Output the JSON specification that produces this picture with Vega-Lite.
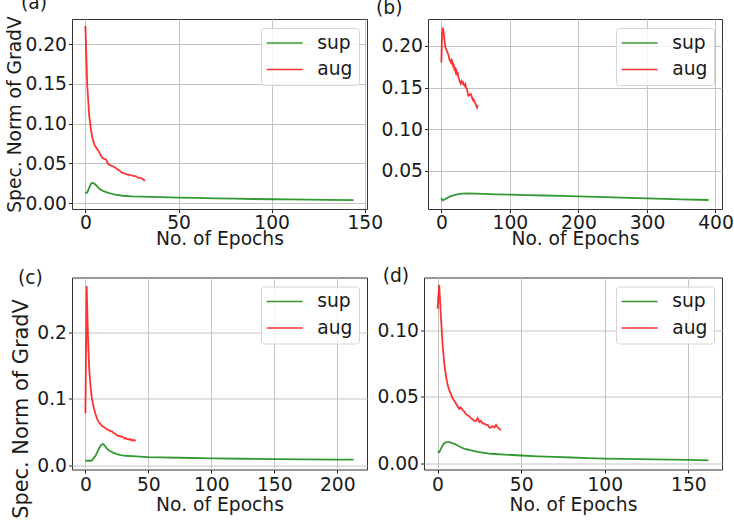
{
  "$schema": "https://vega.github.io/schema/vega-lite/v6.json",
  "background": "white",
  "padding": {"left": 5, "top": -7, "right": 2, "bottom": 5},
  "bounds": "flush",
  "spacing": 258.5,
  "config": {
    "font": "DejaVu Sans",
    "view": {"stroke": "#333333", "strokeWidth": 1},
    "axis": {
      "labelFont": "DejaVu Sans", "labelFontSize": 18.7, "labelColor": "#1a1a1a",
      "titleFont": "DejaVu Sans", "titleFontSize": 18.7, "titleFontWeight": "normal", "titleColor": "#1a1a1a",
      "grid": true, "gridColor": "#c4c4c4", "gridWidth": 1,
      "domain": false, "tickColor": "#222222", "tickSize": 3.5, "tickWidth": 1,
      "labelPadding": 2, "labelFlush": false, "labelOverlap": false, "labelBound": false
    },
    "title": {"font": "DejaVu Sans", "fontSize": 18.7, "fontWeight": "normal", "color": "#1a1a1a", "anchor": "start", "frame": "group", "baseline": "alphabetic", "offset": 0},
    "legend": {
      "orient": "top-right", "offset": 8.5, "padding": 5.6,
      "fillColor": "rgba(255,255,255,0.8)", "strokeColor": "#d4d4d4", "cornerRadius": 3,
      "labelFont": "DejaVu Sans", "labelFontSize": 18.7, "labelColor": "#1a1a1a",
      "symbolType": "M-3,0H3", "symbolSize": 144, "symbolStrokeWidth": 1.6, "symbolOpacity": 0.8,
      "symbolOffset": 8.65, "labelOffset": 23.3, "rowPadding": 6.5
    }
  },
  "resolve": {"scale": {"color": "independent"}, "legend": {"color": "independent"}},
  "vconcat": [
    {
      "bounds": "flush",
      "spacing": 61,
      "resolve": {"scale": {"color": "independent"}, "legend": {"color": "independent"}},
      "hconcat": [
        {
          "width": 295, "height": 190,
          "title": {"text": "(a)", "dx": -51, "dy": 1},
          "data": {"values": [
            {"series": "aug", "epoch": 0, "value": 0.223}, {"series": "aug", "epoch": 1, "value": 0.148}, {"series": "aug", "epoch": 2, "value": 0.111}, {"series": "aug", "epoch": 3, "value": 0.092}, {"series": "aug", "epoch": 4, "value": 0.0795}, {"series": "aug", "epoch": 5, "value": 0.073}, {"series": "aug", "epoch": 6, "value": 0.069}, {"series": "aug", "epoch": 7, "value": 0.0657}, {"series": "aug", "epoch": 8, "value": 0.0615}, {"series": "aug", "epoch": 9, "value": 0.057}, {"series": "aug", "epoch": 10, "value": 0.0556}, {"series": "aug", "epoch": 11, "value": 0.0552}, {"series": "aug", "epoch": 12, "value": 0.05}, {"series": "aug", "epoch": 13, "value": 0.048}, {"series": "aug", "epoch": 14, "value": 0.047}, {"series": "aug", "epoch": 15, "value": 0.046}, {"series": "aug", "epoch": 16, "value": 0.0448}, {"series": "aug", "epoch": 17, "value": 0.043}, {"series": "aug", "epoch": 18, "value": 0.0414}, {"series": "aug", "epoch": 19, "value": 0.0393}, {"series": "aug", "epoch": 20, "value": 0.038}, {"series": "aug", "epoch": 21, "value": 0.0372}, {"series": "aug", "epoch": 22, "value": 0.0364}, {"series": "aug", "epoch": 23, "value": 0.0356}, {"series": "aug", "epoch": 24, "value": 0.0356}, {"series": "aug", "epoch": 25, "value": 0.0347}, {"series": "aug", "epoch": 26, "value": 0.0339}, {"series": "aug", "epoch": 27, "value": 0.0339}, {"series": "aug", "epoch": 28, "value": 0.0322}, {"series": "aug", "epoch": 29, "value": 0.0318}, {"series": "aug", "epoch": 30, "value": 0.0314}, {"series": "aug", "epoch": 31, "value": 0.0297}, {"series": "aug", "epoch": 32, "value": 0.028},
            {"series": "sup", "epoch": 0, "value": 0.0126}, {"series": "sup", "epoch": 1, "value": 0.0134}, {"series": "sup", "epoch": 2, "value": 0.019}, {"series": "sup", "epoch": 3, "value": 0.0243}, {"series": "sup", "epoch": 4, "value": 0.0255}, {"series": "sup", "epoch": 5, "value": 0.0239}, {"series": "sup", "epoch": 6, "value": 0.0218}, {"series": "sup", "epoch": 7, "value": 0.019}, {"series": "sup", "epoch": 8, "value": 0.0172}, {"series": "sup", "epoch": 9, "value": 0.0159}, {"series": "sup", "epoch": 10, "value": 0.0146}, {"series": "sup", "epoch": 12, "value": 0.013}, {"series": "sup", "epoch": 14, "value": 0.0117}, {"series": "sup", "epoch": 16, "value": 0.0105}, {"series": "sup", "epoch": 20, "value": 0.0092}, {"series": "sup", "epoch": 25, "value": 0.0084}, {"series": "sup", "epoch": 30, "value": 0.008}, {"series": "sup", "epoch": 40, "value": 0.0075}, {"series": "sup", "epoch": 50, "value": 0.0069}, {"series": "sup", "epoch": 60, "value": 0.0064}, {"series": "sup", "epoch": 70, "value": 0.006}, {"series": "sup", "epoch": 80, "value": 0.0055}, {"series": "sup", "epoch": 90, "value": 0.0051}, {"series": "sup", "epoch": 100, "value": 0.0048}, {"series": "sup", "epoch": 110, "value": 0.0045}, {"series": "sup", "epoch": 120, "value": 0.0042}, {"series": "sup", "epoch": 130, "value": 0.004}, {"series": "sup", "epoch": 144, "value": 0.0037}
          ]},
          "mark": {"type": "line", "strokeWidth": 1.8, "opacity": 0.8},
          "encoding": {
            "x": {"field": "epoch", "type": "quantitative", "scale": {"domain": [-7.2, 151.2], "nice": false, "zero": false}, "axis": {"values": [0, 50, 100, 150], "title": "No. of Epochs", "labelPadding": 1, "titlePadding": -3}},
            "y": {"field": "value", "type": "quantitative", "scale": {"domain": [-0.0075, 0.2318], "nice": false, "zero": false}, "axis": {"values": [0, 0.05, 0.1, 0.15, 0.2], "format": ".2f", "title": "Spec. Norm of GradV", "titlePadding": 0}},
            "color": {"field": "series", "type": "nominal", "scale": {"domain": ["sup", "aug"], "range": ["#008000", "#ff0000"]}, "legend": {"title": null}}
          }
        },
        {
          "width": 294, "height": 190,
          "title": {"text": "(b)", "dx": -52, "dy": 2.2},
          "data": {"values": [
            {"series": "aug", "epoch": 0, "value": 0.18}, {"series": "aug", "epoch": 1, "value": 0.215}, {"series": "aug", "epoch": 2, "value": 0.222}, {"series": "aug", "epoch": 3, "value": 0.218}, {"series": "aug", "epoch": 4, "value": 0.211}, {"series": "aug", "epoch": 5, "value": 0.204}, {"series": "aug", "epoch": 6, "value": 0.198}, {"series": "aug", "epoch": 7, "value": 0.196}, {"series": "aug", "epoch": 8, "value": 0.194}, {"series": "aug", "epoch": 9, "value": 0.192}, {"series": "aug", "epoch": 10, "value": 0.19}, {"series": "aug", "epoch": 11, "value": 0.187}, {"series": "aug", "epoch": 12, "value": 0.183}, {"series": "aug", "epoch": 13, "value": 0.182}, {"series": "aug", "epoch": 14, "value": 0.18}, {"series": "aug", "epoch": 15, "value": 0.183}, {"series": "aug", "epoch": 16, "value": 0.181}, {"series": "aug", "epoch": 17, "value": 0.176}, {"series": "aug", "epoch": 18, "value": 0.177}, {"series": "aug", "epoch": 19, "value": 0.172}, {"series": "aug", "epoch": 20, "value": 0.173}, {"series": "aug", "epoch": 21, "value": 0.168}, {"series": "aug", "epoch": 22, "value": 0.17}, {"series": "aug", "epoch": 23, "value": 0.166}, {"series": "aug", "epoch": 24, "value": 0.167}, {"series": "aug", "epoch": 25, "value": 0.162}, {"series": "aug", "epoch": 26, "value": 0.16}, {"series": "aug", "epoch": 27, "value": 0.157}, {"series": "aug", "epoch": 28, "value": 0.155}, {"series": "aug", "epoch": 29, "value": 0.157}, {"series": "aug", "epoch": 30, "value": 0.154}, {"series": "aug", "epoch": 31, "value": 0.158}, {"series": "aug", "epoch": 32, "value": 0.155}, {"series": "aug", "epoch": 33, "value": 0.153}, {"series": "aug", "epoch": 34, "value": 0.152}, {"series": "aug", "epoch": 35, "value": 0.154}, {"series": "aug", "epoch": 36, "value": 0.15}, {"series": "aug", "epoch": 37, "value": 0.149}, {"series": "aug", "epoch": 38, "value": 0.146}, {"series": "aug", "epoch": 39, "value": 0.141}, {"series": "aug", "epoch": 40, "value": 0.14}, {"series": "aug", "epoch": 41, "value": 0.141}, {"series": "aug", "epoch": 42, "value": 0.142}, {"series": "aug", "epoch": 43, "value": 0.142}, {"series": "aug", "epoch": 44, "value": 0.14}, {"series": "aug", "epoch": 45, "value": 0.137}, {"series": "aug", "epoch": 46, "value": 0.135}, {"series": "aug", "epoch": 47, "value": 0.136}, {"series": "aug", "epoch": 48, "value": 0.133}, {"series": "aug", "epoch": 49, "value": 0.132}, {"series": "aug", "epoch": 50, "value": 0.13}, {"series": "aug", "epoch": 51, "value": 0.128}, {"series": "aug", "epoch": 52, "value": 0.126}, {"series": "aug", "epoch": 53, "value": 0.129},
            {"series": "sup", "epoch": 0, "value": 0.0172}, {"series": "sup", "epoch": 1, "value": 0.015}, {"series": "sup", "epoch": 2, "value": 0.0144}, {"series": "sup", "epoch": 3, "value": 0.0148}, {"series": "sup", "epoch": 5, "value": 0.0158}, {"series": "sup", "epoch": 10, "value": 0.018}, {"series": "sup", "epoch": 15, "value": 0.0198}, {"series": "sup", "epoch": 20, "value": 0.021}, {"series": "sup", "epoch": 25, "value": 0.0219}, {"series": "sup", "epoch": 30, "value": 0.0224}, {"series": "sup", "epoch": 40, "value": 0.0228}, {"series": "sup", "epoch": 50, "value": 0.0226}, {"series": "sup", "epoch": 60, "value": 0.0222}, {"series": "sup", "epoch": 80, "value": 0.0217}, {"series": "sup", "epoch": 100, "value": 0.0212}, {"series": "sup", "epoch": 125, "value": 0.0207}, {"series": "sup", "epoch": 150, "value": 0.0202}, {"series": "sup", "epoch": 175, "value": 0.0197}, {"series": "sup", "epoch": 200, "value": 0.0192}, {"series": "sup", "epoch": 225, "value": 0.0186}, {"series": "sup", "epoch": 250, "value": 0.018}, {"series": "sup", "epoch": 275, "value": 0.0174}, {"series": "sup", "epoch": 300, "value": 0.0168}, {"series": "sup", "epoch": 325, "value": 0.0162}, {"series": "sup", "epoch": 350, "value": 0.0156}, {"series": "sup", "epoch": 375, "value": 0.0151}, {"series": "sup", "epoch": 390, "value": 0.0148}
          ]},
          "mark": {"type": "line", "strokeWidth": 1.8, "opacity": 0.8},
          "encoding": {
            "x": {"field": "epoch", "type": "quantitative", "scale": {"domain": [-19.5, 409.5], "nice": false, "zero": false}, "axis": {"values": [0, 100, 200, 300, 400], "title": "No. of Epochs", "labelPadding": 1, "titlePadding": -3}},
            "y": {"field": "value", "type": "quantitative", "scale": {"domain": [0.004, 0.2324], "nice": false, "zero": false}, "axis": {"values": [0.05, 0.1, 0.15, 0.2], "format": ".2f", "title": null}},
            "color": {"field": "series", "type": "nominal", "scale": {"domain": ["sup", "aug"], "range": ["#008000", "#ff0000"]}, "legend": {"title": null}}
          }
        }
      ]
    },
    {
      "bounds": "flush",
      "spacing": 57,
      "resolve": {"scale": {"color": "independent"}, "legend": {"color": "independent"}},
      "hconcat": [
        {
          "width": 295, "height": 192,
          "title": {"text": "(c)", "dx": -54, "dy": 14},
          "data": {"values": [
            {"series": "aug", "epoch": 0, "value": 0.078}, {"series": "aug", "epoch": 1, "value": 0.27}, {"series": "aug", "epoch": 2, "value": 0.195}, {"series": "aug", "epoch": 3, "value": 0.145}, {"series": "aug", "epoch": 4, "value": 0.121}, {"series": "aug", "epoch": 5, "value": 0.102}, {"series": "aug", "epoch": 6, "value": 0.092}, {"series": "aug", "epoch": 7, "value": 0.084}, {"series": "aug", "epoch": 8, "value": 0.077}, {"series": "aug", "epoch": 9, "value": 0.071}, {"series": "aug", "epoch": 10, "value": 0.067}, {"series": "aug", "epoch": 11, "value": 0.064}, {"series": "aug", "epoch": 12, "value": 0.062}, {"series": "aug", "epoch": 13, "value": 0.059}, {"series": "aug", "epoch": 14, "value": 0.058}, {"series": "aug", "epoch": 15, "value": 0.057}, {"series": "aug", "epoch": 16, "value": 0.055}, {"series": "aug", "epoch": 17, "value": 0.054}, {"series": "aug", "epoch": 18, "value": 0.053}, {"series": "aug", "epoch": 19, "value": 0.052}, {"series": "aug", "epoch": 20, "value": 0.051}, {"series": "aug", "epoch": 21, "value": 0.051}, {"series": "aug", "epoch": 22, "value": 0.049}, {"series": "aug", "epoch": 23, "value": 0.048}, {"series": "aug", "epoch": 24, "value": 0.047}, {"series": "aug", "epoch": 25, "value": 0.045}, {"series": "aug", "epoch": 26, "value": 0.044}, {"series": "aug", "epoch": 27, "value": 0.044}, {"series": "aug", "epoch": 28, "value": 0.043}, {"series": "aug", "epoch": 29, "value": 0.043}, {"series": "aug", "epoch": 30, "value": 0.042}, {"series": "aug", "epoch": 31, "value": 0.04}, {"series": "aug", "epoch": 32, "value": 0.041}, {"series": "aug", "epoch": 33, "value": 0.039}, {"series": "aug", "epoch": 34, "value": 0.039}, {"series": "aug", "epoch": 35, "value": 0.038}, {"series": "aug", "epoch": 36, "value": 0.039}, {"series": "aug", "epoch": 37, "value": 0.037}, {"series": "aug", "epoch": 38, "value": 0.038}, {"series": "aug", "epoch": 39, "value": 0.037}, {"series": "aug", "epoch": 40, "value": 0.037},
            {"series": "sup", "epoch": 0, "value": 0.0065}, {"series": "sup", "epoch": 2, "value": 0.0065}, {"series": "sup", "epoch": 4, "value": 0.0065}, {"series": "sup", "epoch": 5, "value": 0.0067}, {"series": "sup", "epoch": 6, "value": 0.009}, {"series": "sup", "epoch": 7, "value": 0.0116}, {"series": "sup", "epoch": 8, "value": 0.014}, {"series": "sup", "epoch": 9, "value": 0.0176}, {"series": "sup", "epoch": 10, "value": 0.0216}, {"series": "sup", "epoch": 11, "value": 0.0256}, {"series": "sup", "epoch": 12, "value": 0.029}, {"series": "sup", "epoch": 13, "value": 0.031}, {"series": "sup", "epoch": 14, "value": 0.0317}, {"series": "sup", "epoch": 15, "value": 0.03}, {"series": "sup", "epoch": 16, "value": 0.0276}, {"series": "sup", "epoch": 17, "value": 0.025}, {"series": "sup", "epoch": 18, "value": 0.023}, {"series": "sup", "epoch": 20, "value": 0.0206}, {"series": "sup", "epoch": 22, "value": 0.0186}, {"series": "sup", "epoch": 25, "value": 0.0166}, {"series": "sup", "epoch": 28, "value": 0.015}, {"series": "sup", "epoch": 32, "value": 0.014}, {"series": "sup", "epoch": 40, "value": 0.013}, {"series": "sup", "epoch": 50, "value": 0.012}, {"series": "sup", "epoch": 60, "value": 0.0115}, {"series": "sup", "epoch": 75, "value": 0.011}, {"series": "sup", "epoch": 100, "value": 0.0101}, {"series": "sup", "epoch": 125, "value": 0.0095}, {"series": "sup", "epoch": 150, "value": 0.009}, {"series": "sup", "epoch": 175, "value": 0.0085}, {"series": "sup", "epoch": 200, "value": 0.0082}, {"series": "sup", "epoch": 213, "value": 0.0081}
          ]},
          "mark": {"type": "line", "strokeWidth": 1.8, "opacity": 0.8},
          "encoding": {
            "x": {"field": "epoch", "type": "quantitative", "scale": {"domain": [-10.65, 223.65], "nice": false, "zero": false}, "axis": {"values": [0, 50, 100, 150, 200], "title": "No. of Epochs", "labelPadding": 2.5, "titlePadding": 1.4}},
            "y": {"field": "value", "type": "quantitative", "scale": {"domain": [-0.0067, 0.2828], "nice": false, "zero": false}, "axis": {"values": [0, 0.1, 0.2], "format": ".1f", "title": "Spec. Norm of GradV", "titlePadding": 5, "titleFontSize": 20.9, "titleY": 131}},
            "color": {"field": "series", "type": "nominal", "scale": {"domain": ["sup", "aug"], "range": ["#008000", "#ff0000"]}, "legend": {"title": null}}
          }
        },
        {
          "width": 298, "height": 192,
          "title": {"text": "(d)", "dx": -41.3, "dy": 12},
          "data": {"values": [
            {"series": "aug", "epoch": 0, "value": 0.116}, {"series": "aug", "epoch": 1, "value": 0.134}, {"series": "aug", "epoch": 2, "value": 0.11}, {"series": "aug", "epoch": 3, "value": 0.09}, {"series": "aug", "epoch": 4, "value": 0.075}, {"series": "aug", "epoch": 5, "value": 0.066}, {"series": "aug", "epoch": 6, "value": 0.059}, {"series": "aug", "epoch": 7, "value": 0.055}, {"series": "aug", "epoch": 8, "value": 0.052}, {"series": "aug", "epoch": 9, "value": 0.049}, {"series": "aug", "epoch": 10, "value": 0.047}, {"series": "aug", "epoch": 11, "value": 0.045}, {"series": "aug", "epoch": 12, "value": 0.043}, {"series": "aug", "epoch": 13, "value": 0.041}, {"series": "aug", "epoch": 14, "value": 0.042}, {"series": "aug", "epoch": 15, "value": 0.04}, {"series": "aug", "epoch": 16, "value": 0.039}, {"series": "aug", "epoch": 17, "value": 0.037}, {"series": "aug", "epoch": 18, "value": 0.036}, {"series": "aug", "epoch": 19, "value": 0.0355}, {"series": "aug", "epoch": 20, "value": 0.034}, {"series": "aug", "epoch": 21, "value": 0.033}, {"series": "aug", "epoch": 22, "value": 0.032}, {"series": "aug", "epoch": 23, "value": 0.032}, {"series": "aug", "epoch": 24, "value": 0.034}, {"series": "aug", "epoch": 25, "value": 0.031}, {"series": "aug", "epoch": 26, "value": 0.032}, {"series": "aug", "epoch": 27, "value": 0.03}, {"series": "aug", "epoch": 28, "value": 0.03}, {"series": "aug", "epoch": 29, "value": 0.029}, {"series": "aug", "epoch": 30, "value": 0.029}, {"series": "aug", "epoch": 31, "value": 0.027}, {"series": "aug", "epoch": 32, "value": 0.027}, {"series": "aug", "epoch": 33, "value": 0.028}, {"series": "aug", "epoch": 34, "value": 0.027}, {"series": "aug", "epoch": 35, "value": 0.029}, {"series": "aug", "epoch": 36, "value": 0.027}, {"series": "aug", "epoch": 37, "value": 0.026}, {"series": "aug", "epoch": 38, "value": 0.025},
            {"series": "sup", "epoch": 0, "value": 0.0085}, {"series": "sup", "epoch": 1, "value": 0.0085}, {"series": "sup", "epoch": 2, "value": 0.011}, {"series": "sup", "epoch": 3, "value": 0.0135}, {"series": "sup", "epoch": 4, "value": 0.0152}, {"series": "sup", "epoch": 5, "value": 0.0158}, {"series": "sup", "epoch": 6, "value": 0.016}, {"series": "sup", "epoch": 7, "value": 0.016}, {"series": "sup", "epoch": 8, "value": 0.0157}, {"series": "sup", "epoch": 9, "value": 0.0152}, {"series": "sup", "epoch": 10, "value": 0.0147}, {"series": "sup", "epoch": 12, "value": 0.0135}, {"series": "sup", "epoch": 14, "value": 0.0122}, {"series": "sup", "epoch": 16, "value": 0.011}, {"series": "sup", "epoch": 18, "value": 0.0105}, {"series": "sup", "epoch": 20, "value": 0.0098}, {"series": "sup", "epoch": 24, "value": 0.0088}, {"series": "sup", "epoch": 28, "value": 0.008}, {"series": "sup", "epoch": 32, "value": 0.0073}, {"series": "sup", "epoch": 40, "value": 0.0067}, {"series": "sup", "epoch": 50, "value": 0.006}, {"series": "sup", "epoch": 60, "value": 0.0054}, {"series": "sup", "epoch": 70, "value": 0.0049}, {"series": "sup", "epoch": 80, "value": 0.0045}, {"series": "sup", "epoch": 90, "value": 0.0041}, {"series": "sup", "epoch": 100, "value": 0.0037}, {"series": "sup", "epoch": 110, "value": 0.0035}, {"series": "sup", "epoch": 120, "value": 0.0033}, {"series": "sup", "epoch": 130, "value": 0.0031}, {"series": "sup", "epoch": 140, "value": 0.0029}, {"series": "sup", "epoch": 150, "value": 0.0027}, {"series": "sup", "epoch": 162, "value": 0.0024}
          ]},
          "mark": {"type": "line", "strokeWidth": 1.8, "opacity": 0.8},
          "encoding": {
            "x": {"field": "epoch", "type": "quantitative", "scale": {"domain": [-8.1, 170.1], "nice": false, "zero": false}, "axis": {"values": [0, 50, 100, 150], "title": "No. of Epochs", "labelPadding": 2.5, "titlePadding": 1.4}},
            "y": {"field": "value", "type": "quantitative", "scale": {"domain": [-0.0045, 0.1395], "nice": false, "zero": false}, "axis": {"values": [0, 0.05, 0.1], "format": ".2f", "title": null}},
            "color": {"field": "series", "type": "nominal", "scale": {"domain": ["sup", "aug"], "range": ["#008000", "#ff0000"]}, "legend": {"title": null}}
          }
        }
      ]
    }
  ]
}
